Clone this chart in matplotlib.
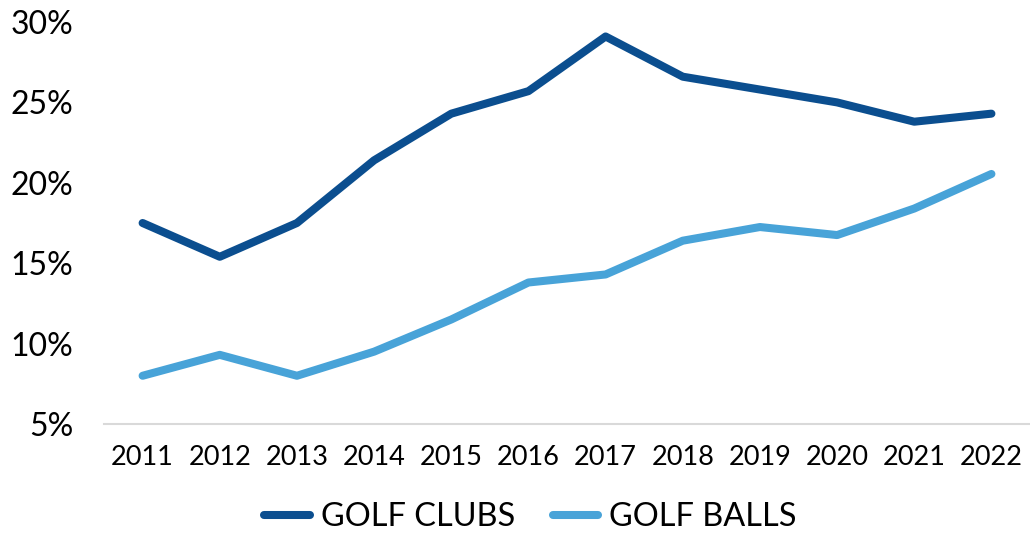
import matplotlib
matplotlib.use("Agg")
import matplotlib.pyplot as plt
from matplotlib.ticker import FuncFormatter

years = ["2011", "2012", "2013", "2014", "2015", "2016", "2017", "2018", "2019", "2020", "2021", "2022"]
golf_clubs = [17.5, 15.4, 17.5, 21.4, 24.3, 25.7, 29.1, 26.6, 25.8, 25.0, 23.8, 24.3]
golf_balls = [8.0, 9.3, 8.0, 9.5, 11.5, 13.8, 14.3, 16.4, 17.25, 16.75, 18.4, 20.55]

plt.rcParams['font.family'] = ['Lato', 'DejaVu Sans']

fig = plt.figure(figsize=(10.30, 5.33), dpi=100)
ax = fig.add_axes([0.101, 0.2045, 0.899, 0.7542])

x = list(range(len(years)))
ax.plot(x, golf_clubs, color="#0B4E8F", lw=5.8, solid_capstyle="round", solid_joinstyle="round", label="GOLF CLUBS", clip_on=False)
ax.plot(x, golf_balls, color="#48A3D8", lw=5.8, solid_capstyle="round", solid_joinstyle="round", label="GOLF BALLS", clip_on=False)

ax.set_xlim(-0.5, 11.5)
ax.set_ylim(5, 30)
ax.set_yticks([5, 10, 15, 20, 25, 30])
ax.yaxis.set_major_formatter(FuncFormatter(lambda v, p: f"{int(v)}%"))
ax.set_xticks(x)
ax.set_xticklabels(years)

for s in ["top", "right", "left"]:
    ax.spines[s].set_visible(False)
ax.spines["bottom"].set_color("#D9D9D9")
ax.spines["bottom"].set_linewidth(1.5)
ax.tick_params(axis="both", length=0)
ax.tick_params(axis="y", labelsize=23, pad=22)
ax.tick_params(axis="x", labelsize=19.5, pad=15)

leg = fig.legend(loc="center", bbox_to_anchor=(0.515, 0.030), ncol=2, frameon=False,
                 fontsize=23.4, handlelength=1.4, handletextpad=0.35, columnspacing=1.15)

fig.savefig("out.png", dpi=100)
